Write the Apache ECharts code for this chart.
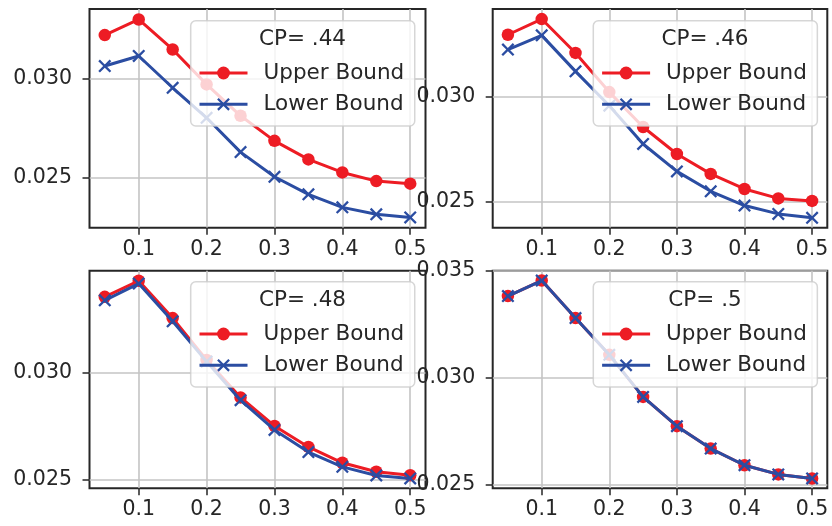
<!DOCTYPE html>
<html>
<head>
<meta charset="utf-8">
<script src="https://cdn.jsdelivr.net/npm/echarts@6/dist/echarts.min.js"></script>
<style>
  html, body { margin: 0; padding: 0; background: #ffffff; }
  #chart { width: 832px; height: 526px; }
</style>
</head>
<body>
<div id="chart"></div>
<script>
// Step values shared by every panel
const steps = [0.05, 0.10, 0.15, 0.20, 0.25, 0.30, 0.35, 0.40, 0.45, 0.50];
const xTicks = [0.1, 0.2, 0.3, 0.4, 0.5];
const xRange = [0.0275, 0.5225];

// Bounds for each CP level
const cp44Upper = [0.03223, 0.03302, 0.03150, 0.02973, 0.02814, 0.02687, 0.02593, 0.02527, 0.02483, 0.02470];
const cp44Lower = [0.03066, 0.03117, 0.02956, 0.02804, 0.02630, 0.02505, 0.02416, 0.02350, 0.02315, 0.02299];
const cp46Upper = [0.03296, 0.03371, 0.03209, 0.03022, 0.02855, 0.02726, 0.02631, 0.02559, 0.02514, 0.02502];
const cp46Lower = [0.03225, 0.03293, 0.03121, 0.02957, 0.02774, 0.02643, 0.02548, 0.02480, 0.02440, 0.02421];
const cp48Upper = [0.03352, 0.03427, 0.03253, 0.03058, 0.02883, 0.02750, 0.02652, 0.02578, 0.02536, 0.02520];
const cp48Lower = [0.03336, 0.03414, 0.03238, 0.03050, 0.02870, 0.02731, 0.02628, 0.02559, 0.02519, 0.02505];
const cp50Upper = [0.03382, 0.03455, 0.03279, 0.03107, 0.02910, 0.02773, 0.02668, 0.02590, 0.02547, 0.02528];
const cp50Lower = [0.03382, 0.03455, 0.03279, 0.03107, 0.02910, 0.02773, 0.02668, 0.02590, 0.02547, 0.02528];

// Tick labels and axis limits for each panel
const cpLabels = ['CP= .44', 'CP= .46', 'CP= .48', 'CP= .5'];
const yTicksPerPanel = [[0.025, 0.030], [0.025, 0.030], [0.025, 0.030], [0.025, 0.030, 0.035]];
const yLimits = [[0.02247, 0.03355], [0.02374, 0.03419], [0.02459, 0.03474], [0.02482, 0.03501]];

const upperSets = [cp44Upper, cp46Upper, cp48Upper, cp50Upper];
const lowerSets = [cp44Lower, cp46Lower, cp48Lower, cp50Lower];

// Panel placement (pixels)
const layout = [
  { grid: { left: 89.5, top: 9, width: 336, height: 218.7 }, legend: { left: 190.7, top: 20.7 }, titleX: 302.5, titleY: 39.5 },
  { grid: { left: 492.7, top: 9, width: 334.6, height: 218.7 }, legend: { left: 593.3, top: 20.7 }, titleX: 705, titleY: 39.5 },
  { grid: { left: 89.5, top: 270.7, width: 336, height: 217.6 }, legend: { left: 190.7, top: 281.7 }, titleX: 302.5, titleY: 300.5 },
  { grid: { left: 492.7, top: 270.7, width: 334.6, height: 217.6 }, legend: { left: 593.3, top: 281.7 }, titleX: 705, titleY: 300.5 }
];

const RED = '#ED1C24';
const BLUE = '#2B4DA2';
const INK = '#262626';
const GRIDLINE = '#c4c4c4';
const FONT = 'DejaVu Sans';
const X_MARK = 'path://M0,1.5L1.5,0L6,4.5L10.5,0L12,1.5L7.5,6L12,10.5L10.5,12L6,7.5L1.5,12L0,10.5L4.5,6Z';

const grids = [], xAxes = [], yAxes = [], series = [], legends = [], titles = [];

layout.forEach((p, i) => {
  grids.push(Object.assign({
    show: true, borderColor: INK, borderWidth: 2, backgroundColor: 'transparent',
    containLabel: false, outerBoundsMode: 'none'
  }, p.grid));

  xAxes.push({
    type: 'value', gridIndex: i, min: xRange[0], max: xRange[1],
    axisLine: { show: false },
    axisTick: { show: true, length: 7, customValues: xTicks, lineStyle: { color: INK, width: 1.5 } },
    axisLabel: {
      customValues: xTicks, margin: 11, fontSize: 20.5, fontFamily: FONT, color: INK,
      formatter: v => v.toFixed(1)
    },
    splitLine: { show: true, lineStyle: { color: GRIDLINE, width: 1.6 } }
  });

  yAxes.push({
    type: 'value', gridIndex: i, min: yLimits[i][0], max: yLimits[i][1],
    axisLine: { show: false },
    axisTick: { show: true, length: 7, customValues: yTicksPerPanel[i], lineStyle: { color: INK, width: 1.5 } },
    axisLabel: {
      customValues: yTicksPerPanel[i], margin: 17.5, fontSize: 20.5, fontFamily: FONT, color: INK,
      formatter: v => v.toFixed(3)
    },
    splitLine: { show: true, lineStyle: { color: GRIDLINE, width: 1.6 } }
  });

  series.push({
    name: 'Upper Bound', type: 'line', xAxisIndex: i, yAxisIndex: i, z: 2,
    data: steps.map((x, k) => [x, upperSets[i][k]]),
    symbol: 'circle', symbolSize: 12.5, showSymbol: true, showAllSymbol: true,
    itemStyle: { color: RED },
    lineStyle: { color: RED, width: 3 },
    animation: false
  });
  series.push({
    name: 'Lower Bound', type: 'line', xAxisIndex: i, yAxisIndex: i, z: 3,
    data: steps.map((x, k) => [x, lowerSets[i][k]]),
    symbol: X_MARK, symbolSize: 13, showSymbol: true, showAllSymbol: true,
    itemStyle: { color: BLUE },
    lineStyle: { color: BLUE, width: 3 },
    animation: false
  });

  legends.push({
    orient: 'vertical', left: p.legend.left, top: p.legend.top,
    padding: [40.3, 10.5, 9.7, 7.3],
    itemWidth: 48, itemHeight: 16, itemGap: 7.3,
    backgroundColor: 'rgba(255,255,255,0.8)',
    borderColor: 'rgba(204,204,204,0.8)', borderWidth: 1.5, borderRadius: 5,
    selectedMode: false,
    lineStyle: { width: 3 },
    textStyle: { fontFamily: FONT, fontSize: 21.5, color: INK, lineHeight: 24, padding: [0, 0, 0, 11] },
    data: ['Upper Bound', 'Lower Bound']
  });

  titles.push({
    text: cpLabels[i], left: p.titleX, top: p.titleY, padding: 0,
    textAlign: 'center', textVerticalAlign: 'middle',
    textStyle: { fontFamily: FONT, fontSize: 21.5, fontWeight: 'normal', color: INK }
  });
});

const chart = echarts.init(document.getElementById('chart'), null, { renderer: 'canvas' });
chart.setOption({
  backgroundColor: '#ffffff',
  animation: false,
  title: titles,
  legend: legends,
  grid: grids,
  xAxis: xAxes,
  yAxis: yAxes,
  series: series
});
</script>
</body>
</html>
